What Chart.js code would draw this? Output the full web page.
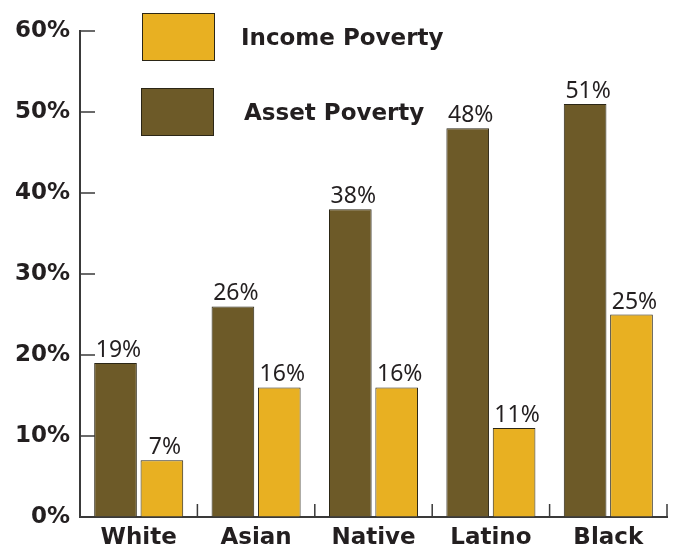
<!DOCTYPE html>
<html>
<head>
<meta charset="utf-8">
<script src="https://cdn.jsdelivr.net/npm/chart.js@4"></script>
<style>
html, body { margin: 0; padding: 0; background: #fff; }
</style>
</head>
<body>
<canvas id="chart" width="675" height="546"></canvas>
<script>
// data
var groups = ['White', 'Asian', 'Native', 'Latino', 'Black'];
var assetPoverty = [19, 26, 38, 48, 51];
var incomePoverty = [7, 16, 16, 11, 25];
var yTickValues = [0, 10, 20, 30, 40, 50, 60];

var assetColor = '#6d5a28';
var incomeColor = '#e8b022';
var lineColor = '#3a3a3a';
var textColor = '#231f20';

// small ticks pointing into the plot, like the original
var innerTicks = {
    id: 'innerTicks',
    afterDraw: function (chart) {
        var ctx = chart.ctx;
        var area = chart.chartArea;
        var x = chart.scales.x;
        var y = chart.scales.y;
        ctx.save();
        ctx.strokeStyle = lineColor;
        ctx.lineWidth = 1.5;
        ctx.beginPath();
        yTickValues.forEach(function (v) {
            var py = y.getPixelForValue(v);
            ctx.moveTo(area.left, py);
            ctx.lineTo(area.left + 15, py);
        });
        var half = (x.getPixelForValue(1) - x.getPixelForValue(0)) / 2;
        for (var i = 0; i < groups.length; i++) {
            var px = x.getPixelForValue(i) + half;
            ctx.moveTo(px, area.bottom);
            ctx.lineTo(px, area.bottom - 13);
        }
        ctx.stroke();
        ctx.restore();
    }
};

// value labels above each bar
var barLabels = {
    id: 'barLabels',
    afterDatasetsDraw: function (chart) {
        var ctx = chart.ctx;
        ctx.save();
        ctx.font = '23px "Noto Sans"';
        ctx.fillStyle = textColor;
        ctx.textAlign = 'center';
        ctx.textBaseline = 'bottom';
        chart.data.datasets.forEach(function (ds, di) {
            chart.getDatasetMeta(di).data.forEach(function (bar, i) {
                ctx.fillText(ds.data[i] + '%', bar.x + 3, bar.y - 1);
            });
        });
        ctx.restore();
    }
};

// legend with big boxes, income first
var boxLegend = {
    id: 'boxLegend',
    afterDraw: function (chart) {
        var ctx = chart.ctx;
        var items = [chart.data.datasets[1], chart.data.datasets[0]];
        var boxes = [[142, 13, 73, 48, 241], [141, 88, 73, 48, 244]];
        ctx.save();
        ctx.font = 'bold 23px "DejaVu Sans"';
        ctx.textBaseline = 'middle';
        items.forEach(function (ds, i) {
            var b = boxes[i];
            ctx.fillStyle = ds.backgroundColor;
            ctx.fillRect(b[0], b[1], b[2], b[3]);
            ctx.strokeStyle = ds.borderColor;
            ctx.lineWidth = 1;
            ctx.strokeRect(b[0] + 0.5, b[1] + 0.5, b[2] - 1, b[3] - 1);
            ctx.fillStyle = textColor;
            ctx.fillText(ds.label, b[4], b[1] + b[3] / 2 + 2);
        });
        ctx.restore();
    }
};

var data = {
    labels: groups,
    datasets: [
        {
            label: 'Asset Poverty',
            data: assetPoverty,
            backgroundColor: assetColor,
            borderColor: '#2b2616',
            borderWidth: 1
        },
        {
            label: 'Income Poverty',
            data: incomePoverty,
            backgroundColor: incomeColor,
            borderColor: '#2b2616',
            borderWidth: 1
        }
    ]
};

var config = {
    type: 'bar',
    data: data,
    options: {
        responsive: false,
        animation: false,
        layout: { padding: { top: 31, right: 8, left: 0, bottom: 0 } },
        datasets: {
            bar: { categoryPercentage: 0.79, barPercentage: 0.92 }
        },
        plugins: {
            legend: { display: false },
            tooltip: { enabled: false }
        },
        scales: {
            x: {
                grid: { drawOnChartArea: false, drawTicks: false },
                border: { color: lineColor, width: 2 },
                ticks: {
                    color: textColor,
                    font: { family: 'DejaVu Sans', weight: 'bold', size: 23 },
                    padding: 7
                },
                afterFit: function (scale) { scale.height = 29; }
            },
            y: {
                min: 0,
                max: 60,
                grid: { drawOnChartArea: false, drawTicks: false },
                border: { color: lineColor, width: 2 },
                ticks: {
                    stepSize: 10,
                    color: textColor,
                    font: { family: 'DejaVu Sans', weight: 'bold', size: 23 },
                    padding: 10,
                    callback: function (v) { return v + '%'; }
                },
                afterFit: function (scale) { scale.width = 80; }
            }
        }
    },
    plugins: [innerTicks, barLabels, boxLegend]
};

var myChart = new Chart(document.getElementById('chart'), config);
</script>
</body>
</html>
